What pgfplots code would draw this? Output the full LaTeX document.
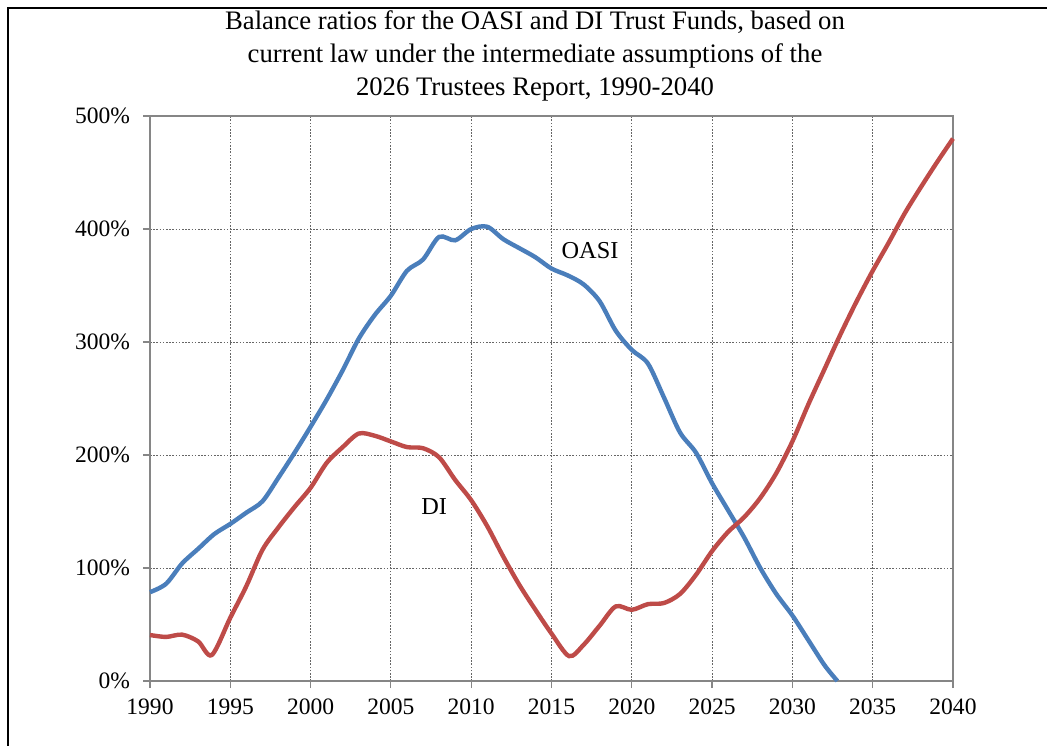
\documentclass[border=0pt]{standalone}
\usepackage{pgfplots}
\pgfplotsset{compat=1.18}
\usepackage{fontspec}
\setmainfont{Liberation Serif}
\definecolor{oasiblue}{HTML}{4A7EBB}
\definecolor{dired}{HTML}{BE4B48}
\definecolor{axgray}{HTML}{868686}
\begin{document}
\begin{tikzpicture}
\useasboundingbox (-75bp,-32.5bp) rectangle (448.5bp,340.5bp);
\draw[line width=1bp] (-71bp,-32.5bp) -- (-71bp,336.5bp) -- (448.5bp,336.5bp);
\node[align=center,font=\fontsize{13.4}{16.5}\selectfont] at (192.5bp,312.5bp)
 {Balance ratios for the OASI and DI Trust Funds, based on\\
  current law under the intermediate assumptions of the\\
  2026 Trustees Report, 1990-2040};
\begin{axis}[
  at={(0,0)}, anchor=origin,
  scale only axis, width=401.5bp, height=282.5bp,
  xmin=1990, xmax=2040, ymin=0, ymax=500,
  xtick={1990,1995,...,2040},
  xticklabels={1990,1995,2000,2005,2010,2015,2020,2025,2030,2035,2040},
  ytick={0,100,...,500},
  yticklabels={0\%,100\%,200\%,300\%,400\%,500\%},
  tick align=outside, tick pos=left,
  major tick length=3.5bp,
  every tick/.style={axgray, line width=0.6bp},
  axis line style={axgray, line width=0.6bp},
  grid=major,
  major grid style={black!60, dash pattern=on 0.8bp off 0.8bp, line width=0.45bp},
  ticklabel style={font=\fontsize{11.8}{13}\selectfont},
  yticklabel style={xshift=-3bp},
  xticklabel style={yshift=-2bp},
  /pgf/number format/assume math mode=true,
  clip=false,
]
\addplot[oasiblue, line width=2.2bp, smooth, tension=0.5] coordinates {
(1990,78.6)(1991,86)(1992,104)(1993,117)(1994,130)(1995,139)(1996,149)(1997,159)
(1998,180)(1999,202)(2000,225)(2001,249)(2002,275)(2003,303)(2004,324)(2005,341)
(2006,363)(2007,373)(2008,393)(2009,390)(2010,400)(2011,402)(2012,391)(2013,383)
(2014,375)(2015,365)(2016,359)(2017,351)(2018,336)(2019,310)(2020,293)(2021,281)
(2022,251)(2023,220)(2024,202)(2025,175)(2026,151)(2027,127)(2028,100)(2029,77)
(2030,58)(2031,36)(2032,14)(2032.8,0)
};
\addplot[dired, line width=2.2bp, smooth, tension=0.5] coordinates {
(1990,40.7)(1991,39)(1992,41)(1993,35)(1993.85,23)(1995,56)(1996,84)(1997,116)
(1998,136)(1999,154)(2000,171)(2001,193)(2002,207)(2003,219)(2004,217)(2005,212)
(2006,207)(2007,206)(2008,198)(2009,178)(2010,160)(2011,137)(2012,110)(2013,85)
(2014,63)(2015,42)(2016.1,22)(2017,32)(2018,49)(2019,66)(2020,63)(2021,68)
(2022,69)(2023,77)(2024,94)(2025,115)(2026,132)(2027,145)(2028,162)(2029,184)
(2030,212)(2031,245)(2032,276)(2033,307)(2034,336)(2035,363)(2036,388)(2037,414)
(2038,437)(2039,459)(2040,480)
};
\node[font=\fontsize{12.2}{13}\selectfont] at (axis cs:2017.4,381) {OASI};
\node[font=\fontsize{12.2}{13}\selectfont] at (axis cs:2007.7,154) {DI};
\end{axis}
\end{tikzpicture}
\end{document}
